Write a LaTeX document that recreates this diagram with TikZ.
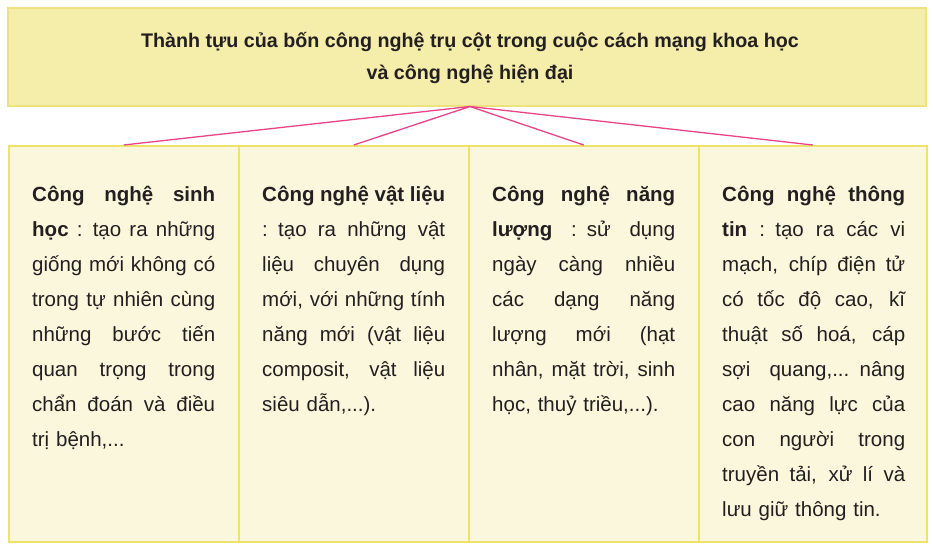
\documentclass[tikz,border=0pt]{standalone}
\usepackage{fontspec}
\setmainfont{Liberation Sans}
\definecolor{topfill}{HTML}{F5EDAA}
\definecolor{topline}{HTML}{EEE27E}
\definecolor{colfill}{HTML}{FBF7DC}
\definecolor{colline}{HTML}{EDE36A}
\definecolor{linkpink}{HTML}{E9448A}
\definecolor{ink}{HTML}{231F20}
\newlength\colw
\setlength\colw{183pt}
\newcommand\jline[1]{\leavevmode\hbox to \colw{\spaceskip=0.28em plus 1fil minus 0.15em\relax #1}}
\begin{document}
\begin{tikzpicture}[x=1pt,y=-1pt,
  topbox/.style={draw=topline,fill=topfill,line width=1.5pt,minimum width=918pt,minimum height=98pt,inner sep=0pt},
  colbox/.style={draw=colline,fill=colfill,line width=1.5pt,minimum width=230pt,minimum height=396pt,inner sep=0pt,anchor=north west},
  titletext/.style={text=ink,font=\bfseries\fontsize{19.7}{32}\selectfont,align=center,inner sep=0pt,anchor=base},
  bodytext/.style={text=ink,font=\fontsize{20.5}{35}\selectfont,text width=\colw,align=left,inner sep=0pt,anchor=base west},
  link/.style={draw=linkpink,line width=1.3pt}]
\useasboundingbox (0,0) rectangle (933,547);
\fill[white] (0,0) rectangle (933,547);
\node[topbox] (top) at (467,57) {};
\node[titletext] (title) at (470,79) {Thành tựu của bốn công nghệ trụ cột trong cuộc cách mạng khoa học\\và công nghệ hiện đại};
\node[colbox] (c1) at (8,145) {};
\node[colbox] (c2) at (238,145) {};
\node[colbox] (c3) at (468,145) {};
\node[colbox,minimum width=228pt] (c4) at (698,145) {};
\coordinate (apex) at (470,106.5);
\draw[link] (apex) -- (c1.north);
\draw[link] (apex) -- (c2.north);
\draw[link] (apex) -- (c3.north);
\draw[link] (apex) -- (c4.north);
\node[bodytext] (b1) at (32,201) {\jline{\textbf{Công nghệ sinh}}\\
\jline{\textbf{học} : tạo ra những}\\
\jline{giống mới không có}\\
\jline{trong tự nhiên cùng}\\
\jline{những bước tiến}\\
\jline{quan trọng trong}\\
\jline{chẩn đoán và điều}\\
trị bệnh,...};
\node[bodytext] (b2) at (262,201) {\jline{\textbf{Công nghệ vật liệu}}\\
\jline{: tạo ra những vật}\\
\jline{liệu chuyên dụng}\\
\jline{mới, với những tính}\\
\jline{năng mới (vật liệu}\\
\jline{composit, vật liệu}\\
siêu dẫn,...).};
\node[bodytext] (b3) at (492,201) {\jline{\textbf{Công nghệ năng}}\\
\jline{\textbf{lượng} : sử dụng}\\
\jline{ngày càng nhiều}\\
\jline{các dạng năng}\\
\jline{lượng mới (hạt}\\
\jline{nhân, mặt trời, sinh}\\
học, thuỷ triều,...).};
\node[bodytext] (b4) at (722,201) {\jline{\textbf{Công nghệ thông}}\\
\jline{\textbf{tin} : tạo ra các vi}\\
\jline{mạch, chíp điện tử}\\
\jline{có tốc độ cao, kĩ}\\
\jline{thuật số hoá, cáp}\\
\jline{sợi quang,... nâng}\\
\jline{cao năng lực của}\\
\jline{con người trong}\\
\jline{truyền tải, xử lí và}\\
lưu giữ thông tin.};
\end{tikzpicture}
\end{document}
